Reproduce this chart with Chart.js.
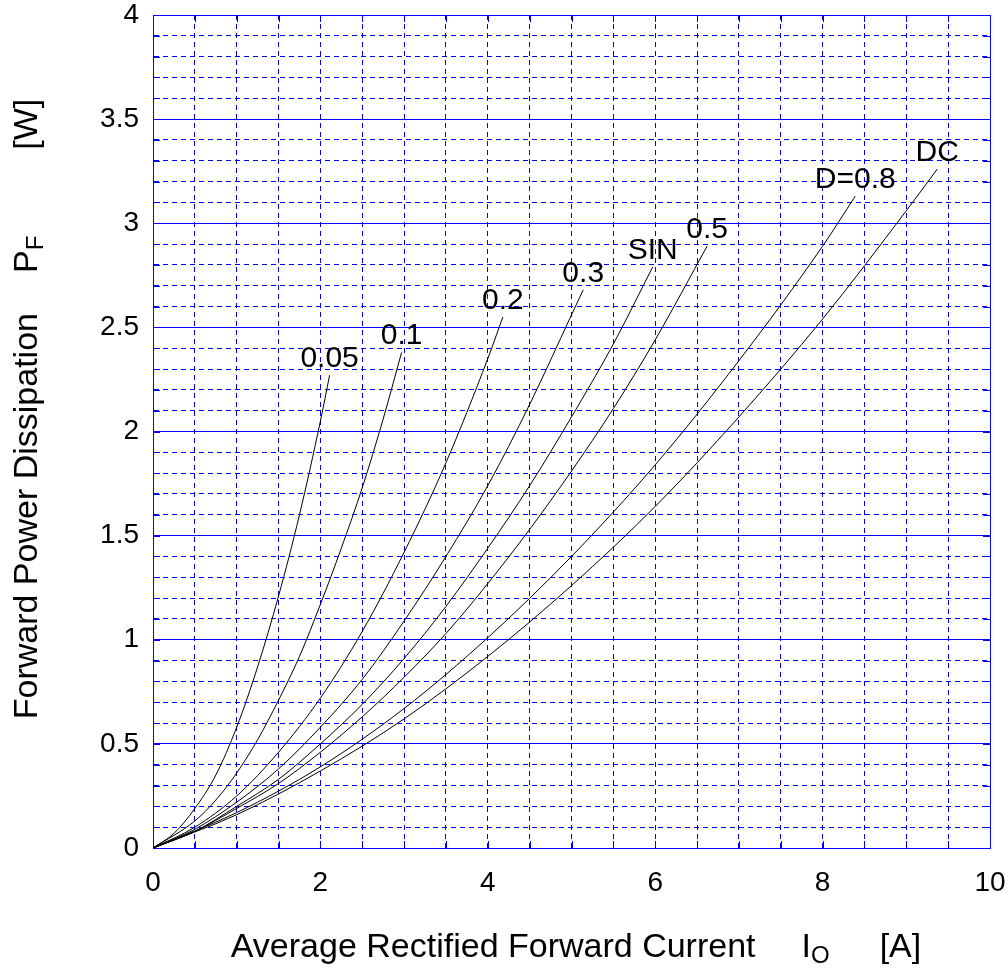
<!DOCTYPE html>
<html>
<head>
<meta charset="utf-8">
<script src="https://cdn.jsdelivr.net/npm/chart.js@4/dist/chart.umd.min.js"></script>
<style>
  body { margin: 0; background: #fff; }
  #wrap { width: 1008px; height: 975px; }
</style>
</head>
<body>
<div id="wrap"><canvas id="chartPF" width="1008" height="975"></canvas></div>
<script>
'use strict';

//colors

var gridBlue = "rgb(0,0,255)";
var curveBlack = "rgb(0,0,0)";
var fontFamily = '"Liberation Sans", Arial, sans-serif';

//curve data (Io [A] -> PF [W])

const curveLabels = ['0.05', '0.1', '0.2', '0.3', 'SIN', '0.5', 'D=0.8', 'DC'];

const io_005 = [0, 0.25, 0.5, 0.75, 1, 1.25, 1.5, 1.75, 2, 2.11];
const pf_005 = [0, 0.07, 0.19, 0.35, 0.58, 0.87, 1.21, 1.60, 2.05, 2.27];

const io_01 = [0, 0.5, 0.75, 1, 1.25, 1.5, 1.75, 2, 2.25, 2.5, 2.75, 2.97];
const pf_01 = [0, 0.13, 0.23, 0.36, 0.52, 0.71, 0.92, 1.17, 1.44, 1.73, 2.06, 2.38];

const io_02 = [0, 0.5, 1, 1.5, 2, 2.5, 3, 3.5, 4, 4.18];
const pf_02 = [0, 0.10, 0.25, 0.46, 0.72, 1.04, 1.42, 1.85, 2.35, 2.55];

const io_03 = [0, 0.5, 1, 1.5, 2, 2.5, 3, 3.5, 4, 4.5, 5, 5.14];
const pf_03 = [0, 0.09, 0.22, 0.38, 0.58, 0.81, 1.09, 1.40, 1.74, 2.13, 2.56, 2.68];

const io_sin = [0, 0.5, 1, 1.5, 2, 2.5, 3, 3.5, 4, 4.5, 5, 5.5, 5.97];
const pf_sin = [0, 0.08, 0.20, 0.33, 0.50, 0.69, 0.91, 1.16, 1.44, 1.74, 2.07, 2.42, 2.79];

const io_05 = [0, 0.5, 1, 1.5, 2, 2.5, 3, 3.5, 4, 4.5, 5, 5.5, 6, 6.62];
const pf_05 = [0, 0.08, 0.19, 0.31, 0.46, 0.63, 0.82, 1.03, 1.27, 1.53, 1.81, 2.11, 2.44, 2.89];

const io_08 = [0, 1, 2, 3, 4, 5, 6, 7, 8, 8.39];
const pf_08 = [0, 0.17, 0.39, 0.67, 1.01, 1.40, 1.84, 2.34, 2.89, 3.13];

const io_dc = [0, 1, 2, 3, 4, 5, 6, 7, 8, 9, 9.37];
const pf_dc = [0, 0.16, 0.37, 0.62, 0.92, 1.26, 1.64, 2.07, 2.54, 3.06, 3.26];

const curveX = [io_005, io_01, io_02, io_03, io_sin, io_05, io_08, io_dc];
const curveY = [pf_005, pf_01, pf_02, pf_03, pf_sin, pf_05, pf_08, pf_dc];

//axis settings

const xMin = 0, xMax = 10, xGridStep = 0.5, xLabelStep = 2;
const yMin = 0, yMax = 4, yGridStep = 0.1, yLabelStep = 0.5;

function isMultiple(v, step) {
    return Math.abs(v / step - Math.round(v / step)) < 1e-6;
}

//datasets

const datasets = curveLabels.map((label, i) => ({
    label: label,
    data: curveX[i].map((x, j) => ({ x: x, y: curveY[i][j] })),
    borderColor: curveBlack,
    borderWidth: 1,
    pointRadius: 0,
    fill: false,
    cubicInterpolationMode: 'monotone'
}));

//plugin: frame, inner ticks, curve labels and axis titles

function drawParts(ctx, parts, x, y) {
    let total = 0;
    parts.forEach(p => {
        ctx.font = p.size + 'px ' + fontFamily;
        p.w = ctx.measureText(p.t).width + (p.gap || 0);
        total += p.w;
    });
    let cx = x - total / 2;
    parts.forEach(p => {
        ctx.font = p.size + 'px ' + fontFamily;
        ctx.fillText(p.t, cx, y + (p.dy || 0));
        cx += p.w;
    });
}

const decorPlugin = {
    id: 'decor',
    afterDraw(chart) {
        const ctx = chart.ctx;
        const area = chart.chartArea;
        const xs = chart.scales.x, ys = chart.scales.y;

        ctx.save();

        //inner tick marks
        ctx.strokeStyle = gridBlue;
        ctx.lineWidth = 1;
        ctx.beginPath();
        ys.ticks.forEach(t => {
            const py = Math.round(ys.getPixelForValue(t.value)) + 0.5;
            ctx.moveTo(area.left, py); ctx.lineTo(area.left + 7, py);
            ctx.moveTo(area.right - 7, py); ctx.lineTo(area.right, py);
        });
        xs.ticks.forEach(t => {
            const px = Math.round(xs.getPixelForValue(t.value)) + 0.5;
            ctx.moveTo(px, area.bottom); ctx.lineTo(px, area.bottom - 7);
            ctx.moveTo(px, area.top); ctx.lineTo(px, area.top + 7);
        });
        ctx.stroke();

        //frame
        ctx.strokeRect(Math.round(area.left) + 0.5, Math.round(area.top) + 0.5,
            Math.round(area.right - area.left), Math.round(area.bottom - area.top));

        //curve labels, above the end of each curve
        ctx.fillStyle = '#000';
        ctx.font = '30px ' + fontFamily;
        ctx.textAlign = 'center';
        ctx.textBaseline = 'alphabetic';
        chart.data.datasets.forEach(ds => {
            const last = ds.data[ds.data.length - 1];
            const px = xs.getPixelForValue(last.x);
            const py = ys.getPixelForValue(last.y);
            ctx.fillText(ds.label, px, py - 8);
        });

        //x title
        ctx.textAlign = 'left';
        drawParts(ctx, [
            { t: 'Average Rectified Forward Current', size: 34, gap: 46 },
            { t: 'I', size: 34 },
            { t: 'O', size: 24, dy: 6, gap: 50 },
            { t: '[A]', size: 34 }
        ], 576, 957);

        //y title (rotated)
        ctx.translate(37, 409);
        ctx.rotate(-Math.PI / 2);
        drawParts(ctx, [
            { t: 'Forward Power Dissipation', size: 34, gap: 40 },
            { t: 'P', size: 34 },
            { t: 'F', size: 24, dy: 6, gap: 86 },
            { t: '[W]', size: 34 }
        ], 0, 0);

        ctx.restore();
    }
};

//chart

const chartConfig = {
    type: 'line',
    data: { datasets: datasets },
    options: {
        responsive: false,
        animation: false,
        devicePixelRatio: 1,
        layout: { padding: { top: 15, right: 18, left: 0, bottom: 0 } },
        plugins: {
            legend: { display: false },
            tooltip: { enabled: false }
        },
        scales: {
            x: {
                type: 'linear',
                min: xMin,
                max: xMax,
                afterFit: scale => {
                    scale.height = 975 - 848;
                    scale.paddingLeft = 0;
                    scale.paddingRight = 0;
                },
                ticks: {
                    stepSize: xGridStep,
                    autoSkip: false,
                    maxRotation: 0,
                    padding: 18,
                    color: '#000',
                    font: { family: fontFamily, size: 28 },
                    callback: v => isMultiple(v, xLabelStep) ? String(v) : ''
                },
                grid: { color: gridBlue, lineWidth: 1, drawTicks: false },
                border: { display: true, color: gridBlue, width: 1, dash: [5, 4] }
            },
            y: {
                type: 'linear',
                min: yMin,
                max: yMax,
                afterFit: scale => {
                    scale.width = 153;
                    scale.paddingTop = 0;
                    scale.paddingBottom = 0;
                },
                ticks: {
                    stepSize: yGridStep,
                    autoSkip: false,
                    padding: 14,
                    color: '#000',
                    font: { family: fontFamily, size: 28 },
                    callback: v => isMultiple(v, yLabelStep) ? String(v) : ''
                },
                grid: { color: gridBlue, lineWidth: 1, drawTicks: false },
                border: {
                    display: true, color: gridBlue, width: 1,
                    dash: c => (c.tick && isMultiple(c.tick.value, yLabelStep)) ? [] : [5, 4]
                }
            }
        }
    },
    plugins: [decorPlugin]
};

window.onload = function () {
    new Chart(document.getElementById('chartPF'), chartConfig);
};
</script>
</body>
</html>
